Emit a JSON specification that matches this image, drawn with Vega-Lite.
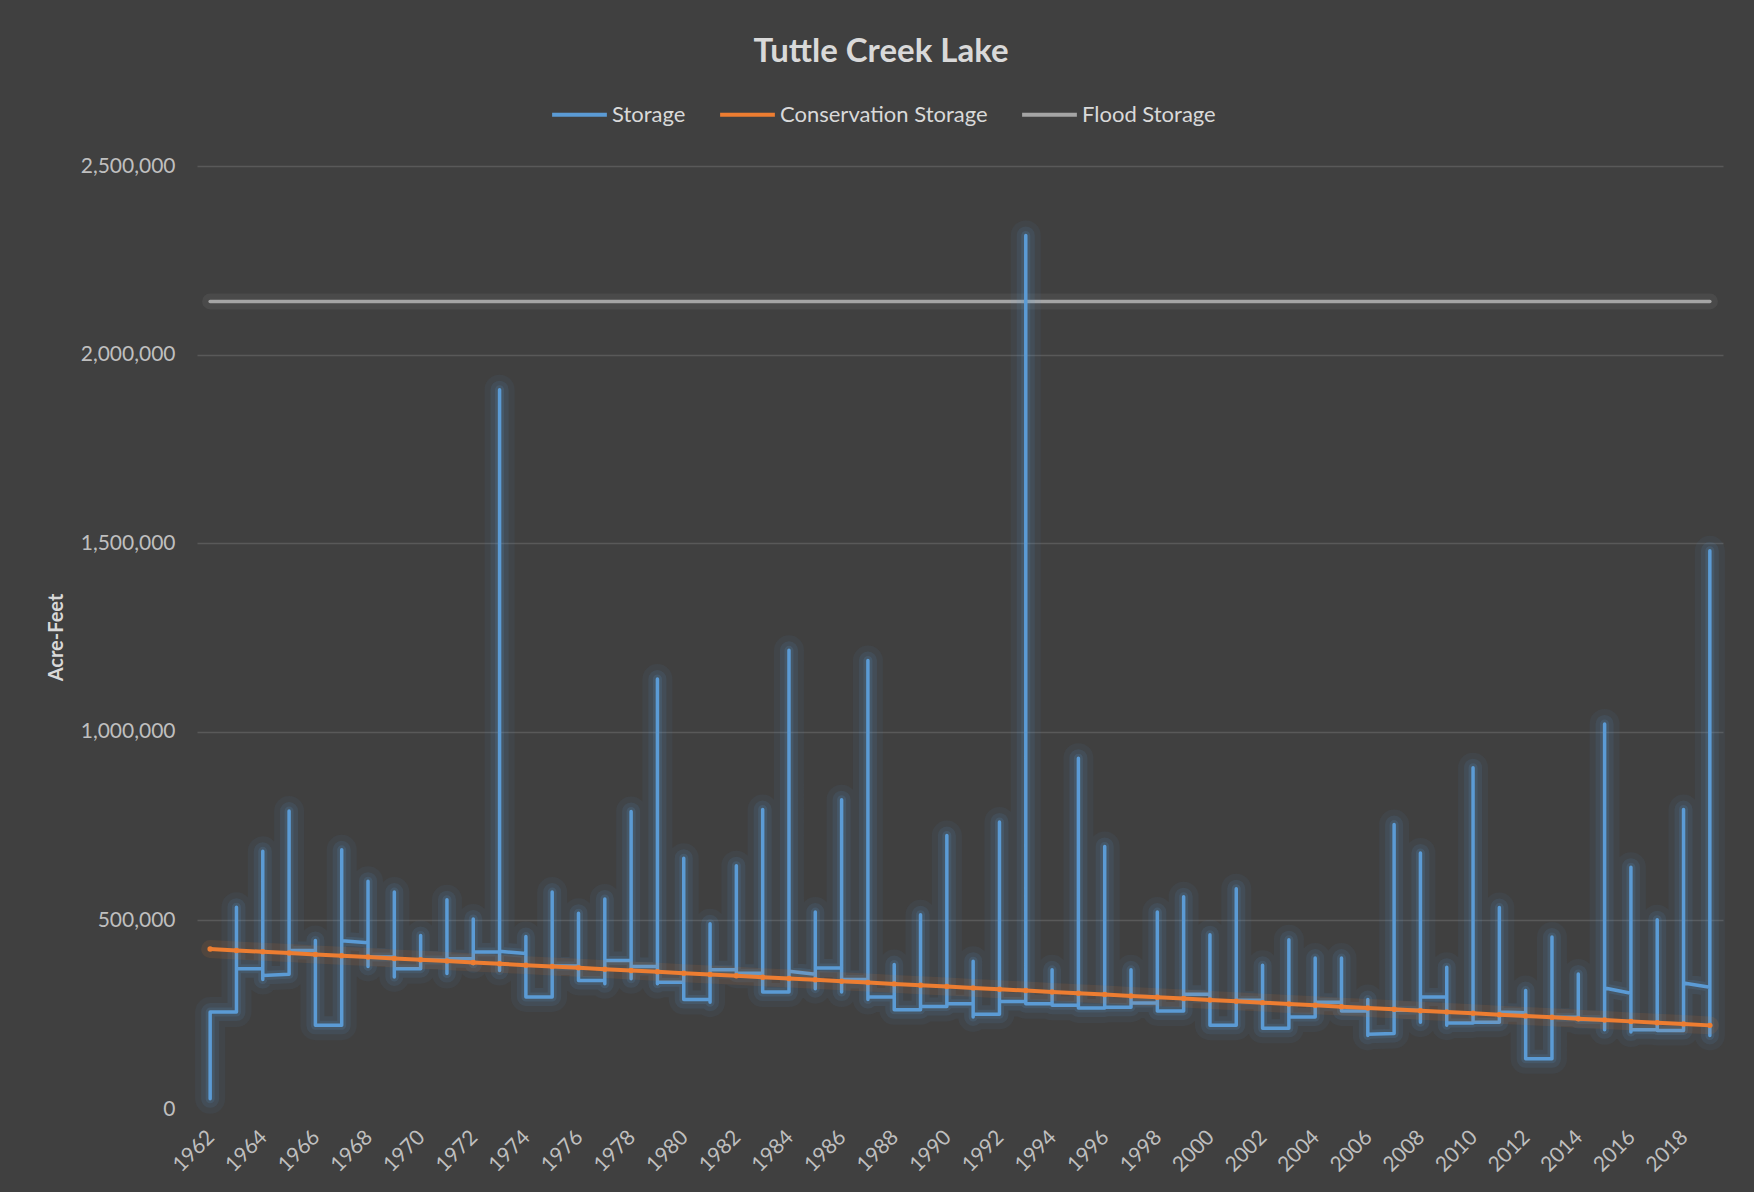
{
  "$schema": "https://vega.github.io/schema/vega-lite/v6.json",
  "width": 1526,
  "height": 943,
  "autosize": {"type": "none"},
  "padding": {"left": 197, "top": 166, "right": 31, "bottom": 83},
  "background": "#404040",
  "title": {"text": "Tuttle Creek Lake", "anchor": "middle", "frame": "group", "dx": -79, "offset": 16, "font": "Lato", "fontSize": 33, "fontWeight": "bold", "color": "#d9d9d9"},
  "config": {
    "view": {"stroke": null},
    "font": "Lato",
    "line": {"strokeCap": "round", "strokeJoin": "round"}
  },
  "datasets": {
    "storage": [
      {"i":1,"year":1962,"v":27000},{"i":2,"year":1962,"v":257000},
      {"i":3,"year":1963,"v":257000},{"i":4,"year":1963,"v":535000},{"i":5,"year":1963,"v":372000},
      {"i":6,"year":1964,"v":372000},{"i":7,"year":1964,"v":683000},{"i":8,"year":1964,"v":343000},{"i":9,"year":1964,"v":354000},
      {"i":10,"year":1965,"v":357000},{"i":11,"year":1965,"v":790000},{"i":12,"year":1965,"v":420000},
      {"i":13,"year":1966,"v":420000},{"i":14,"year":1966,"v":447000},{"i":15,"year":1966,"v":222000},
      {"i":16,"year":1967,"v":222000},{"i":17,"year":1967,"v":687000},{"i":18,"year":1967,"v":446000},
      {"i":19,"year":1968,"v":441000},{"i":20,"year":1968,"v":604000},{"i":21,"year":1968,"v":378000},{"i":22,"year":1968,"v":403000},
      {"i":23,"year":1969,"v":403000},{"i":24,"year":1969,"v":575000},{"i":25,"year":1969,"v":350000},{"i":26,"year":1969,"v":372000},
      {"i":27,"year":1970,"v":372000},{"i":28,"year":1970,"v":460000},{"i":29,"year":1970,"v":395000},
      {"i":30,"year":1971,"v":395000},{"i":31,"year":1971,"v":555000},{"i":32,"year":1971,"v":359000},{"i":33,"year":1971,"v":398000},
      {"i":34,"year":1972,"v":398000},{"i":35,"year":1972,"v":504000},{"i":36,"year":1972,"v":385000},{"i":37,"year":1972,"v":416000},
      {"i":38,"year":1973,"v":416000},{"i":39,"year":1973,"v":1907000},{"i":40,"year":1973,"v":367000},{"i":41,"year":1973,"v":418000},
      {"i":42,"year":1974,"v":412000},{"i":43,"year":1974,"v":457000},{"i":44,"year":1974,"v":297000},
      {"i":45,"year":1975,"v":297000},{"i":46,"year":1975,"v":575000},{"i":47,"year":1975,"v":379000},
      {"i":48,"year":1976,"v":379000},{"i":49,"year":1976,"v":519000},{"i":50,"year":1976,"v":341000},
      {"i":51,"year":1977,"v":341000},{"i":52,"year":1977,"v":557000},{"i":53,"year":1977,"v":332000},{"i":54,"year":1977,"v":394000},
      {"i":55,"year":1978,"v":394000},{"i":56,"year":1978,"v":789000},{"i":57,"year":1978,"v":345000},{"i":58,"year":1978,"v":378000},
      {"i":59,"year":1979,"v":378000},{"i":60,"year":1979,"v":1140000},{"i":61,"year":1979,"v":332000},{"i":62,"year":1979,"v":336000},
      {"i":63,"year":1980,"v":336000},{"i":64,"year":1980,"v":665000},{"i":65,"year":1980,"v":290000},
      {"i":66,"year":1981,"v":290000},{"i":67,"year":1981,"v":491000},{"i":68,"year":1981,"v":283000},{"i":69,"year":1981,"v":369000},
      {"i":70,"year":1982,"v":369000},{"i":71,"year":1982,"v":645000},{"i":72,"year":1982,"v":360000},
      {"i":73,"year":1983,"v":360000},{"i":74,"year":1983,"v":794000},{"i":75,"year":1983,"v":310000},
      {"i":76,"year":1984,"v":310000},{"i":77,"year":1984,"v":1216000},{"i":78,"year":1984,"v":365000},
      {"i":79,"year":1985,"v":357000},{"i":80,"year":1985,"v":522000},{"i":81,"year":1985,"v":319000},{"i":82,"year":1985,"v":374000},
      {"i":83,"year":1986,"v":374000},{"i":84,"year":1986,"v":820000},{"i":85,"year":1986,"v":310000},{"i":86,"year":1986,"v":343000},
      {"i":87,"year":1987,"v":343000},{"i":88,"year":1987,"v":1189000},{"i":89,"year":1987,"v":290000},{"i":90,"year":1987,"v":297000},
      {"i":91,"year":1988,"v":297000},{"i":92,"year":1988,"v":383000},{"i":93,"year":1988,"v":263000},
      {"i":94,"year":1989,"v":263000},{"i":95,"year":1989,"v":515000},{"i":96,"year":1989,"v":272000},
      {"i":97,"year":1990,"v":272000},{"i":98,"year":1990,"v":725000},{"i":99,"year":1990,"v":279000},
      {"i":100,"year":1991,"v":279000},{"i":101,"year":1991,"v":392000},{"i":102,"year":1991,"v":244000},{"i":103,"year":1991,"v":251000},
      {"i":104,"year":1992,"v":251000},{"i":105,"year":1992,"v":761000},{"i":106,"year":1992,"v":285000},
      {"i":107,"year":1993,"v":285000},{"i":108,"year":1993,"v":2316000},{"i":109,"year":1993,"v":279000},
      {"i":110,"year":1994,"v":279000},{"i":111,"year":1994,"v":369000},{"i":112,"year":1994,"v":275000},
      {"i":113,"year":1995,"v":275000},{"i":114,"year":1995,"v":930000},{"i":115,"year":1995,"v":268000},
      {"i":116,"year":1996,"v":268000},{"i":117,"year":1996,"v":696000},{"i":118,"year":1996,"v":270000},
      {"i":119,"year":1997,"v":270000},{"i":120,"year":1997,"v":369000},{"i":121,"year":1997,"v":281000},
      {"i":122,"year":1998,"v":281000},{"i":123,"year":1998,"v":522000},{"i":124,"year":1998,"v":260000},
      {"i":125,"year":1999,"v":260000},{"i":126,"year":1999,"v":563000},{"i":127,"year":1999,"v":304000},
      {"i":128,"year":2000,"v":304000},{"i":129,"year":2000,"v":462000},{"i":130,"year":2000,"v":222000},
      {"i":131,"year":2001,"v":222000},{"i":132,"year":2001,"v":584000},{"i":133,"year":2001,"v":288000},
      {"i":134,"year":2002,"v":288000},{"i":135,"year":2002,"v":381000},{"i":136,"year":2002,"v":214000},
      {"i":137,"year":2003,"v":214000},{"i":138,"year":2003,"v":449000},{"i":139,"year":2003,"v":244000},
      {"i":140,"year":2004,"v":244000},{"i":141,"year":2004,"v":400000},{"i":142,"year":2004,"v":283000},
      {"i":143,"year":2005,"v":283000},{"i":144,"year":2005,"v":400000},{"i":145,"year":2005,"v":260000},
      {"i":146,"year":2006,"v":260000},{"i":147,"year":2006,"v":290000},{"i":148,"year":2006,"v":195000},{"i":149,"year":2006,"v":198000},
      {"i":150,"year":2007,"v":200000},{"i":151,"year":2007,"v":754000},{"i":152,"year":2007,"v":262000},
      {"i":153,"year":2008,"v":262000},{"i":154,"year":2008,"v":679000},{"i":155,"year":2008,"v":230000},{"i":156,"year":2008,"v":297000},
      {"i":157,"year":2009,"v":297000},{"i":158,"year":2009,"v":376000},{"i":159,"year":2009,"v":222000},{"i":160,"year":2009,"v":228000},
      {"i":161,"year":2010,"v":228000},{"i":162,"year":2010,"v":905000},{"i":163,"year":2010,"v":230000},
      {"i":164,"year":2011,"v":230000},{"i":165,"year":2011,"v":534000},{"i":166,"year":2011,"v":257000},
      {"i":167,"year":2012,"v":255000},{"i":168,"year":2012,"v":314000},{"i":169,"year":2012,"v":133000},
      {"i":170,"year":2013,"v":133000},{"i":171,"year":2013,"v":456000},{"i":172,"year":2013,"v":243000},
      {"i":173,"year":2014,"v":243000},{"i":174,"year":2014,"v":358000},{"i":175,"year":2014,"v":237000},
      {"i":176,"year":2015,"v":237000},{"i":177,"year":2015,"v":1021000},{"i":178,"year":2015,"v":210000},{"i":179,"year":2015,"v":321000},
      {"i":180,"year":2016,"v":307000},{"i":181,"year":2016,"v":641000},{"i":182,"year":2016,"v":204000},{"i":183,"year":2016,"v":210000},
      {"i":184,"year":2017,"v":210000},{"i":185,"year":2017,"v":502000},{"i":186,"year":2017,"v":208000},
      {"i":187,"year":2018,"v":208000},{"i":188,"year":2018,"v":794000},{"i":189,"year":2018,"v":334000},
      {"i":190,"year":2019,"v":323000},{"i":191,"year":2019,"v":1480000},{"i":192,"year":2019,"v":195000}
    ],
    "annual": [
      {"year":1962,"cons":424000,"flood":2141000},{"year":1963,"cons":420500,"flood":2141000},
      {"year":1964,"cons":416900,"flood":2141000},{"year":1965,"cons":413400,"flood":2141000},
      {"year":1966,"cons":409800,"flood":2141000},{"year":1967,"cons":406300,"flood":2141000},
      {"year":1968,"cons":402700,"flood":2141000},{"year":1969,"cons":399200,"flood":2141000},
      {"year":1970,"cons":395600,"flood":2141000},{"year":1971,"cons":392100,"flood":2141000},
      {"year":1972,"cons":388500,"flood":2141000},{"year":1973,"cons":385000,"flood":2141000},
      {"year":1974,"cons":381400,"flood":2141000},{"year":1975,"cons":377900,"flood":2141000},
      {"year":1976,"cons":374300,"flood":2141000},{"year":1977,"cons":370800,"flood":2141000},
      {"year":1978,"cons":367200,"flood":2141000},{"year":1979,"cons":363700,"flood":2141000},
      {"year":1980,"cons":360100,"flood":2141000},{"year":1981,"cons":356600,"flood":2141000},
      {"year":1982,"cons":353000,"flood":2141000},{"year":1983,"cons":349500,"flood":2141000},
      {"year":1984,"cons":345900,"flood":2141000},{"year":1985,"cons":342400,"flood":2141000},
      {"year":1986,"cons":338800,"flood":2141000},{"year":1987,"cons":335300,"flood":2141000},
      {"year":1988,"cons":331700,"flood":2141000},{"year":1989,"cons":328200,"flood":2141000},
      {"year":1990,"cons":324600,"flood":2141000},{"year":1991,"cons":321100,"flood":2141000},
      {"year":1992,"cons":317500,"flood":2141000},{"year":1993,"cons":314000,"flood":2141000},
      {"year":1994,"cons":310400,"flood":2141000},{"year":1995,"cons":306900,"flood":2141000},
      {"year":1996,"cons":303300,"flood":2141000},{"year":1997,"cons":299800,"flood":2141000},
      {"year":1998,"cons":296200,"flood":2141000},{"year":1999,"cons":292700,"flood":2141000},
      {"year":2000,"cons":289100,"flood":2141000},{"year":2001,"cons":285600,"flood":2141000},
      {"year":2002,"cons":282000,"flood":2141000},{"year":2003,"cons":278500,"flood":2141000},
      {"year":2004,"cons":274900,"flood":2141000},{"year":2005,"cons":271400,"flood":2141000},
      {"year":2006,"cons":267800,"flood":2141000},{"year":2007,"cons":264300,"flood":2141000},
      {"year":2008,"cons":260700,"flood":2141000},{"year":2009,"cons":257200,"flood":2141000},
      {"year":2010,"cons":253600,"flood":2141000},{"year":2011,"cons":250100,"flood":2141000},
      {"year":2012,"cons":246500,"flood":2141000},{"year":2013,"cons":243000,"flood":2141000},
      {"year":2014,"cons":239400,"flood":2141000},{"year":2015,"cons":235900,"flood":2141000},
      {"year":2016,"cons":232300,"flood":2141000},{"year":2017,"cons":228800,"flood":2141000},
      {"year":2018,"cons":225200,"flood":2141000},{"year":2019,"cons":221700,"flood":2141000}
    ]
  },
  "encoding": {
    "x": {
      "field": "year", "type": "quantitative",
      "scale": {"domain": [1961.5, 2019.5], "nice": false, "zero": false},
      "axis": {
        "title": null,
        "values": [1962,1964,1966,1968,1970,1972,1974,1976,1978,1980,1982,1984,1986,1988,1990,1992,1994,1996,1998,2000,2002,2004,2006,2008,2010,2012,2014,2016,2018],
        "format": "d",
        "labelAngle": -45,
        "labelFont": "Lato",
        "labelFontSize": 21,
        "labelColor": "#bfbfbf",
        "labelPadding": 17,
        "labelOffset": -7,
        "grid": false,
        "domain": false,
        "ticks": false
      }
    }
  },
  "layer": [
    {
      "data": {"name": "annual"},
      "mark": {"type": "line", "color": "#a5a5a5", "strokeWidth": 16, "opacity": 0.1},
      "encoding": {"y": {"field": "flood", "type": "quantitative"}}
    },
    {
      "data": {"name": "annual"},
      "mark": {"type": "line", "strokeWidth": 3.5},
      "encoding": {
        "y": {
          "field": "flood", "type": "quantitative",
          "scale": {"domain": [0, 2500000], "nice": false},
          "axis": {
            "title": "Acre-Feet",
            "values": [0, 500000, 1000000, 1500000, 2000000, 2500000],
            "format": ",.0f",
            "grid": true,
            "gridColor": "#595959",
            "gridWidth": 1.3,
            "gridOpacity": {"condition": {"test": "datum.value === 0", "value": 0}, "value": 1},
            "domain": false,
            "ticks": false,
            "labelFont": "Lato",
            "labelFontSize": 21,
            "labelColor": "#bfbfbf",
            "labelPadding": 22,
            "titleFont": "Lato",
            "titleFontSize": 20,
            "titleFontWeight": "bold",
            "titleColor": "#d9d9d9",
            "titleX": -141,
            "titleY": 471,
            "titleAngle": -90,
            "titleAlign": "center",
            "titleBaseline": "middle"
          }
        },
        "color": {
          "datum": "Flood Storage",
          "scale": {"domain": ["Storage", "Conservation Storage", "Flood Storage"], "range": ["#5b9bd5", "#ed7d31", "#a5a5a5"]},
          "legend": {
            "title": null,
            "orient": "none",
            "legendX": 353,
            "legendY": -81,
            "direction": "horizontal",
            "symbolType": "stroke",
            "symbolSize": 3000,
            "symbolStrokeWidth": 4,
            "labelFont": "Lato",
            "labelFontSize": 22,
            "labelColor": "#d9d9d9",
            "labelOffset": 3,
            "labelLimit": 0,
            "columnPadding": 32
          }
        }
      }
    },
    {
      "data": {"name": "storage"},
      "mark": {"type": "line", "color": "#5b9bd5", "strokeWidth": 30, "opacity": 0.06},
      "encoding": {"y": {"field": "v", "type": "quantitative"}, "order": {"field": "i", "type": "quantitative"}}
    },
    {
      "data": {"name": "storage"},
      "mark": {"type": "line", "color": "#5b9bd5", "strokeWidth": 18, "opacity": 0.1},
      "encoding": {"y": {"field": "v", "type": "quantitative"}, "order": {"field": "i", "type": "quantitative"}}
    },
    {
      "data": {"name": "storage"},
      "mark": {"type": "line", "color": "#5b9bd5", "strokeWidth": 9, "opacity": 0.14},
      "encoding": {"y": {"field": "v", "type": "quantitative"}, "order": {"field": "i", "type": "quantitative"}}
    },
    {
      "data": {"name": "storage"},
      "mark": {"type": "line", "strokeWidth": 3.5},
      "encoding": {
        "y": {"field": "v", "type": "quantitative"},
        "order": {"field": "i", "type": "quantitative"},
        "color": {"datum": "Storage"}
      }
    },
    {
      "data": {"name": "annual"},
      "mark": {"type": "line", "color": "#ed7d31", "strokeWidth": 18, "opacity": 0.1},
      "encoding": {"y": {"field": "cons", "type": "quantitative"}}
    },
    {
      "data": {"name": "annual"},
      "mark": {"type": "line", "strokeWidth": 4},
      "encoding": {
        "y": {"field": "cons", "type": "quantitative"},
        "color": {"datum": "Conservation Storage"}
      }
    },
    {
      "data": {"name": "annual"},
      "mark": {"type": "point", "filled": true, "color": "#ed7d31", "size": 30, "opacity": 1},
      "encoding": {"y": {"field": "cons", "type": "quantitative"}}
    }
  ]
}
